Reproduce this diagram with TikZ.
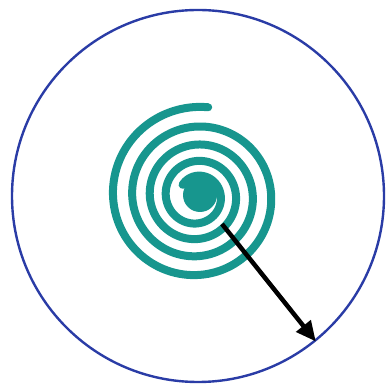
\documentclass[tikz,border=0pt]{standalone}
\usetikzlibrary{arrows.meta}
\definecolor{ringblue}{HTML}{2A3CA6}
\definecolor{teal1}{HTML}{17968E}
\tikzset{
  ringstyle/.style={circle, draw=ringblue, line width=2.4pt, minimum size=372pt, inner sep=0pt},
  spiralstyle/.style={draw=teal1, line width=8pt, line cap=round, line join=round},
  blobstyle/.style={circle, fill=teal1, minimum size=34pt, inner sep=0pt},
  arrowstyle/.style={draw=black, line width=4.5pt, -{Triangle[length=20pt,width=18pt]}}
}
\begin{document}
\begin{tikzpicture}[x=1pt,y=1pt]
\useasboundingbox (0,0) rectangle (390,391);
\node[ringstyle] (ring) at (198,195) {};
\draw[spiralstyle] plot[domain=-0.27:3.9, samples=500, variable=\t, smooth]
  ({197+(84-20*\t+0.8*\t*\t)*cos(180+360*\t)}, {195+(84-20*\t+0.8*\t*\t)*sin(180+360*\t)});
\node[blobstyle] (blob) at (200,196) {};
\coordinate (start) at (222,167);
\draw[arrowstyle] (start) -- (ring.-51);
\end{tikzpicture}
\end{document}
